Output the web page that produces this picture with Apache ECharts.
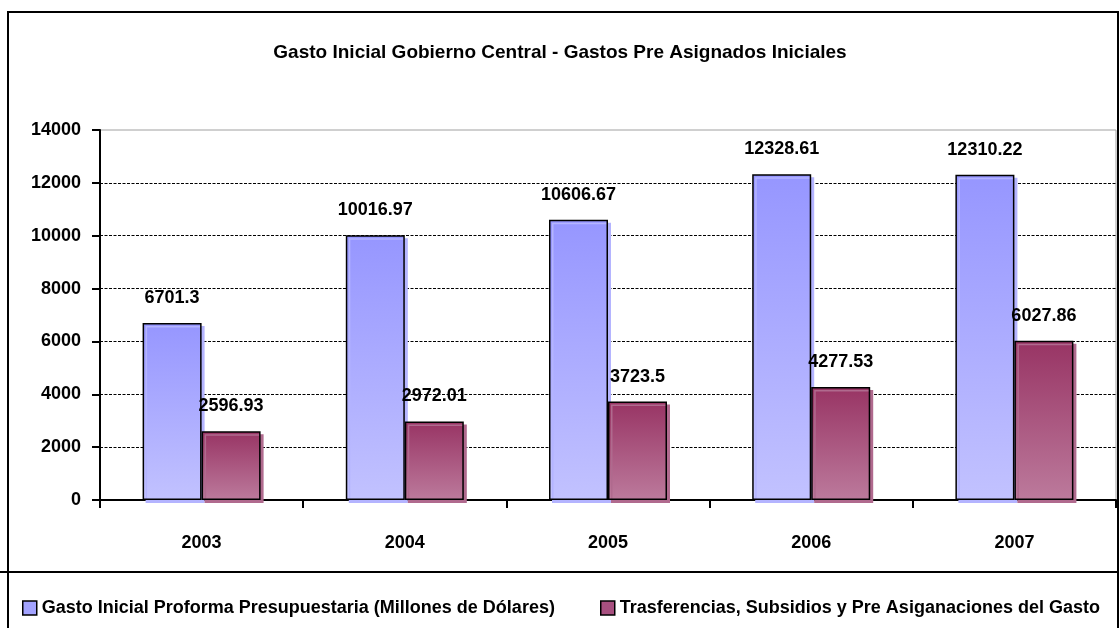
<!DOCTYPE html>
<html>
<head>
<meta charset="utf-8">
<script src="https://cdn.jsdelivr.net/npm/echarts@6/dist/echarts.min.js"></script>
<style>
html,body{margin:0;padding:0;background:#fff;}
#c{width:1120px;height:628px;}
</style>
</head>
<body>
<div id="c"></div>
<script>
const titleText = 'Gasto Inicial Gobierno Central - Gastos Pre Asignados Iniciales';
const categories = ['2003', '2004', '2005', '2006', '2007'];
const seriesNames = ['Gasto Inicial Proforma Presupuestaria (Millones de Dólares)', 'Trasferencias, Subsidios y Pre Asiganaciones del Gasto'];
const gastoInicial = [6701.3, 10016.97, 10606.67, 12328.61, 12310.22];
const transferencias = [2596.93, 2972.01, 3723.5, 4277.53, 6027.86];
const yTicks = [0, 2000, 4000, 6000, 8000, 10000, 12000, 14000];

const FONT = "'Liberation Sans', Arial, sans-serif";
const chart = echarts.init(document.getElementById('c'));

const blueGrad = new echarts.graphic.LinearGradient(0, 0, 0, 1, [
  {offset: 0, color: '#9696FF'}, {offset: 1, color: '#C2C2FF'}]);
const redGrad = new echarts.graphic.LinearGradient(0, 0, 0, 1, [
  {offset: 0, color: '#983464'}, {offset: 1, color: '#BC7A9C'}]);

const labelStyle = {
  show: true, position: 'top', distance: 16, color: '#000',
  fontFamily: FONT, fontWeight: 'bold', fontSize: 18
};

chart.setOption({
  backgroundColor: '#fff',
  animation: false,
  title: {
    text: titleText, left: 'center', top: 38,
    textStyle: {fontFamily: FONT, fontWeight: 'bold', fontSize: 19, color: '#000'}
  },
  legend: [
    {
      data: [{name: seriesNames[0], itemStyle: {color: '#A3A3FF', borderColor: '#000', borderWidth: 1.5}}],
      left: 17, top: 594, icon: 'rect', itemWidth: 14, itemHeight: 14, itemGap: 8,
      textStyle: {fontFamily: FONT, fontSize: 18, color: '#000', fontWeight: 'bold'}
    },
    {
      data: [{name: seriesNames[1], itemStyle: {color: '#A85080', borderColor: '#000', borderWidth: 1.5}}],
      left: 595, top: 594, icon: 'rect', itemWidth: 14, itemHeight: 14, itemGap: 8,
      textStyle: {fontFamily: FONT, fontSize: 18, color: '#000', fontWeight: 'bold'}
    }
  ],
  grid: {
    left: 100, right: 4, top: 130, bottom: 128,
    show: true, borderColor: '#a0a0a0', borderWidth: 1, backgroundColor: 'transparent'
  },
  xAxis: {
    type: 'category', data: categories,
    axisLine: {lineStyle: {color: '#000', width: 2}},
    axisTick: {show: true, length: 8, lineStyle: {color: '#000', width: 2}},
    axisLabel: {margin: 34, color: '#000', fontFamily: FONT, fontWeight: 'bold', fontSize: 18},
    splitLine: {show: false}
  },
  yAxis: {
    type: 'value', min: yTicks[0], max: yTicks[yTicks.length - 1], interval: 2000,
    axisLine: {show: true, lineStyle: {color: '#000', width: 2}},
    axisTick: {show: true, length: 8, lineStyle: {color: '#000', width: 2}},
    axisLabel: {margin: 19, color: '#000', fontFamily: FONT, fontWeight: 'bold', fontSize: 18,
      formatter: function (v) { return String(v); }},
    splitLine: {show: true, lineStyle: {
      color: ['#000', '#000', '#000', '#000', '#000', '#000', '#000', 'rgba(0,0,0,0)'],
      width: 1, type: [3, 1.5]}}
  },
  series: [
    {
      name: seriesNames[0], type: 'bar', data: gastoInicial,
      barWidth: 59, barGap: '0%',
      itemStyle: {color: blueGrad, borderColor: '#000', borderWidth: 1.5,
        shadowColor: '#B4B4FF', shadowBlur: 0, shadowOffsetX: 3, shadowOffsetY: 3},
      label: labelStyle
    },
    {
      name: seriesNames[1], type: 'bar', data: transferencias,
      barWidth: 59,
      itemStyle: {color: redGrad, borderColor: '#000', borderWidth: 1.5,
        shadowColor: '#B06A8E', shadowBlur: 0, shadowOffsetX: 3, shadowOffsetY: 3},
      label: labelStyle
    }
  ],
  graphic: [
    {type: 'rect', shape: {x: 8, y: 12, width: 1110, height: 640}, silent: true,
      style: {fill: 'none', stroke: '#000', lineWidth: 2}, z: 100},
    {type: 'line', shape: {x1: 0, y1: 572, x2: 1118, y2: 572}, silent: true,
      style: {stroke: '#000', lineWidth: 2}, z: 100}
  ]
});
</script>
</body>
</html>
